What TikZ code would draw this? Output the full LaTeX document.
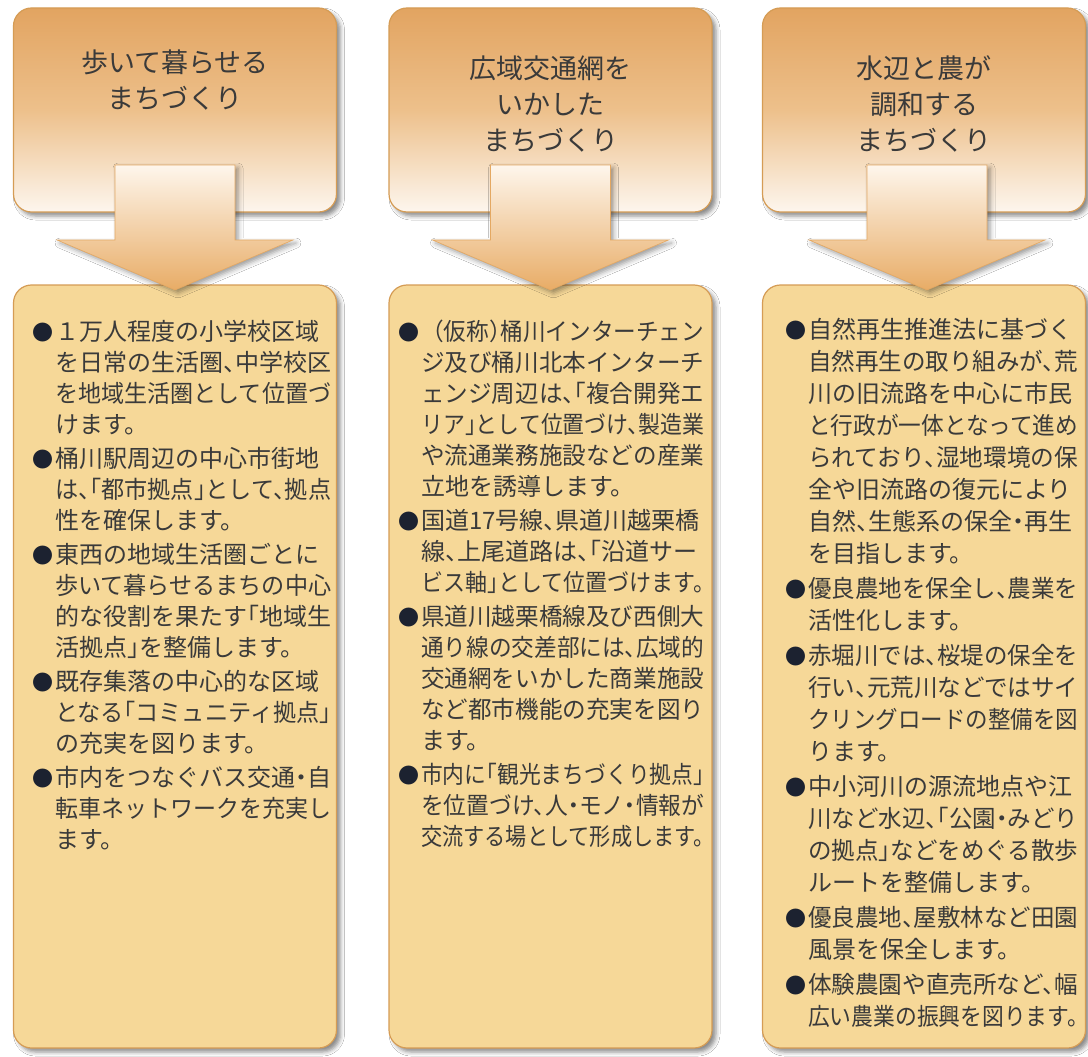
\documentclass[tikz,border=0pt]{standalone}
\usepackage{fontspec}
\usepackage{graphicx}
\usetikzlibrary{shadows.blur}
\newfontfamily\jp{Noto Sans CJK JP}[RawFeature={+halt}]
\newfontfamily\jpt{Noto Sans CJK JP}
\definecolor{tpA}{HTML}{E2A461}
\definecolor{tpM}{HTML}{EDC08B}
\definecolor{tpB}{HTML}{FDF6EE}
\definecolor{bodyc}{HTML}{F6D898}
\definecolor{brd}{HTML}{D59C55}
\definecolor{txt}{HTML}{3A3A3A}
\definecolor{bul}{HTML}{1C2230}
\definecolor{arA}{HTML}{FEF6EC}
\definecolor{arB}{HTML}{E8AC66}
\newsavebox\lnbox
\newlength\maxw
\setlength\maxw{276pt}
\newcommand\fitl[1]{\sbox\lnbox{#1}\ifdim\wd\lnbox>\maxw\resizebox{\maxw}{\ht\lnbox}{\usebox\lnbox}\else\usebox\lnbox\fi}
\newcommand\bl{\llap{{\fontsize{21}{21}\selectfont\color{bul}●}\hspace{2pt}}}
\newcommand\blkarrow[1]{%
  \path[arrowsty] (#1-60,165) -- (#1+60,165) -- (#1+60,240) -- (#1+118,240)
    -- (#1,290) -- (#1-118,240) -- (#1-60,240) -- cycle;}
\tikzset{
  topbox/.style={rounded corners=18pt, draw=brd, line width=1.2pt,
    top color=tpA, bottom color=tpB, middle color=tpM,
    minimum width=323pt, minimum height=204pt, inner sep=0pt,
    blur shadow={shadow xshift=4pt, shadow yshift=-4pt, shadow opacity=45, shadow blur radius=4pt}},
  bodybox/.style={rounded corners=18pt, draw=brd, line width=1.2pt, fill=bodyc,
    minimum width=323pt, minimum height=763pt, inner sep=0pt,
    blur shadow={shadow xshift=4pt, shadow yshift=-4pt, shadow opacity=45, shadow blur radius=4pt}},
  arrowsty/.style={top color=arA, bottom color=arB, draw=arB!90!brown, line width=0.6pt,
    blur shadow={shadow xshift=3pt, shadow yshift=-3pt, shadow opacity=40, shadow blur radius=5pt}},
  ttl/.style={align=center, text=txt, inner sep=0pt, font=\jpt\fontsize{27}{36}\selectfont},
  bodytxt/.style={align=left, text=txt, inner sep=0pt, anchor=north west,
    font=\jp\fontsize{24}{31}\selectfont},
}
\begin{document}
\begin{tikzpicture}[x=1pt,y=-1pt]
\useasboundingbox[fill=white] (0,0) rectangle (1088,1057);
% top boxes
\node[topbox] (t1) at (175,110) {};
\node[topbox] (t2) at (550.5,110) {};
\node[topbox] (t3) at (924,110) {};
% body boxes
\node[bodybox] (b1) at (175,666.5) {};
\node[bodybox] (b2) at (550.5,666.5) {};
\node[bodybox] (b3) at (924,666.5) {};
% arrows
\blkarrow{175}
\blkarrow{550.5}
\blkarrow{927}
% titles
\node[ttl] (h1) at (175,80) {歩いて暮らせる\\まちづくり};
\node[ttl] (h2) at (550.5,104) {広域交通網を\\いかした\\まちづくり};
\node[ttl] (h3) at (924,104) {水辺と農が\\調和する\\まちづくり};
% body texts
\node[bodytxt, execute at begin node={\setlength\maxw{276pt}}] (x1) at (55,320) {%
\bl\fitl{１万人程度の小学校区域}\\
\fitl{を日常の生活圏、中学校区}\\
\fitl{を地域生活圏として位置づ}\\
\fitl{けます。}\\[3pt]
\bl\fitl{桶川駅周辺の中心市街地}\\
\fitl{は、「都市拠点」として、拠点}\\
\fitl{性を確保します。}\\[3pt]
\bl\fitl{東西の地域生活圏ごとに}\\
\fitl{歩いて暮らせるまちの中心}\\
\fitl{的な役割を果たす「地域生}\\
\fitl{活拠点」を整備します。}\\[3pt]
\bl\fitl{既存集落の中心的な区域}\\
\fitl{となる「コミュニティ拠点」}\\
\fitl{の充実を図ります。}\\[3pt]
\bl\fitl{市内をつなぐバス交通・自}\\
\fitl{転車ネットワークを充実し}\\
\fitl{ます。}};
\node[bodytxt, execute at begin node={\setlength\maxw{283pt}}] (x2) at (421,320) {%
\bl\fitl{{\jpt （}仮称）桶川インターチェン}\\
\fitl{ジ及び桶川北本インターチ}\\
\fitl{ェンジ周辺は、「複合開発エ}\\
\fitl{リア」として位置づけ、製造業}\\
\fitl{や流通業務施設などの産業}\\
\fitl{立地を誘導します。}\\[3pt]
\bl\fitl{国道17号線、県道川越栗橋}\\
\fitl{線、上尾道路は、「沿道サー}\\
\fitl{ビス軸」として位置づけます。}\\[3pt]
\bl\fitl{県道川越栗橋線及び西側大}\\
\fitl{通り線の交差部には、広域的}\\
\fitl{交通網をいかした商業施設}\\
\fitl{など都市機能の充実を図り}\\
\fitl{ます。}\\[3pt]
\bl\fitl{市内に「観光まちづくり拠点」}\\
\fitl{を位置づけ、人・モノ・情報が}\\
\fitl{交流する場として形成します。}};
\node[bodytxt, font=\jp\fontsize{24}{32}\selectfont,
      execute at begin node={\setlength\maxw{270pt}}] (x3) at (808,318) {%
\bl\fitl{自然再生推進法に基づく}\\
\fitl{自然再生の取り組みが、荒}\\
\fitl{川の旧流路を中心に市民}\\
\fitl{と行政が一体となって進め}\\
\fitl{られており、湿地環境の保}\\
\fitl{全や旧流路の復元により}\\
\fitl{自然、生態系の保全・再生}\\
\fitl{を目指します。}\\[3pt]
\bl\fitl{優良農地を保全し、農業を}\\
\fitl{活性化します。}\\[3pt]
\bl\fitl{赤堀川では、桜堤の保全を}\\
\fitl{行い、元荒川などではサイ}\\
\fitl{クリングロードの整備を図}\\
\fitl{ります。}\\[3pt]
\bl\fitl{中小河川の源流地点や江}\\
\fitl{川など水辺、「公園・みどり}\\
\fitl{の拠点」などをめぐる散歩}\\
\fitl{ルートを整備します。}\\[3pt]
\bl\fitl{優良農地、屋敷林など田園}\\
\fitl{風景を保全します。}\\[3pt]
\bl\fitl{体験農園や直売所など、幅}\\
\fitl{広い農業の振興を図ります。}};
\end{tikzpicture}
\end{document}
